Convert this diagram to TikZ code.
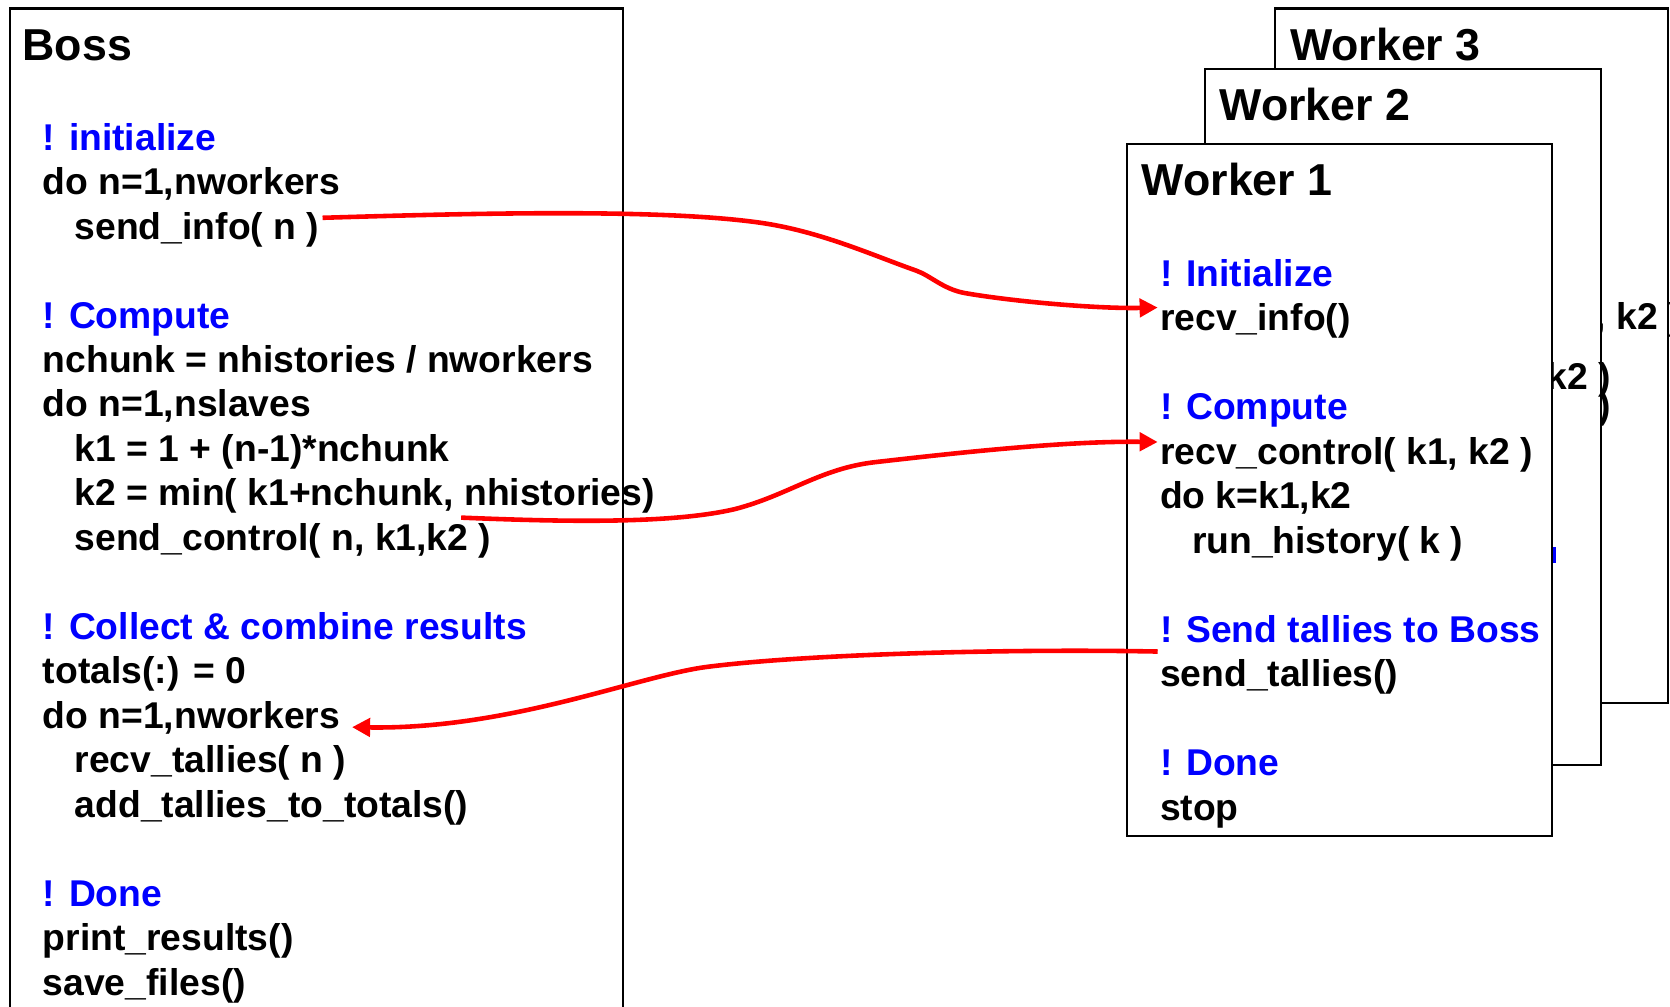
\documentclass[tikz,border=0pt]{standalone}
\usepackage{fontspec}
\setmainfont{Liberation Sans}
\usetikzlibrary{arrows.meta,calc}
\tikzset{
  body/.style={anchor=base west, inner sep=0pt, font=\bfseries\fontsize{35}{42}\selectfont},
  head/.style={body, text=blue},
  title/.style={anchor=base west, inner sep=0pt, font=\bfseries\fontsize{42}{50}\selectfont},
  frame/.style={draw=black, line width=2pt, fill=white},
  msg/.style={draw=red, line width=4.3pt, -{Triangle[length=17pt,width=17pt]}},
}
\begin{document}
\begin{tikzpicture}[x=1pt,y=-1pt]
\useasboundingbox (0,0) rectangle (1568,945);
\clip (0,0) rectangle (1568,945);
% Boss frame
\draw[line width=2pt] (9,960) -- (9,8) -- (585,8) -- (585,960);
\node[title] (boss) at (21,57) {Boss};
\node[head] (binit) at (40,141) {! initialize};
\node[body] (bdo1) at (40,182.75) {do n=1,nworkers};
\node[body] (bsendinfo) at (70,224.5) {send\_info( n )};
\node[head] (bcomp) at (40,308) {! Compute};
\node[body] (bchunk) at (40,349.75) {nchunk = nhistories / nworkers};
\node[body] (bdoslaves) at (40,391.5) {do n=1,nslaves};
\node[body] (bk1) at (70,433.25) {k1 = 1 + (n-1)*nchunk};
\node[body] (bk2) at (70,475) {k2 = min( k1+nchunk, nhistories)};
\node[body] (bsendctl) at (70,516.75) {send\_control( n, k1,k2 )};
\node[head] (bcoll) at (40,600.25) {! Collect \& combine results};
\node[body] (btot) at (40,642) {totals(:) = 0};
\node[body] (bdo2) at (40,683.75) {do n=1,nworkers};
\node[body] (brecv) at (70,725.5) {recv\_tallies( n )};
\node[body] (badd) at (70,767.25) {add\_tallies\_to\_totals()};
\node[head] (bdone) at (40,850.75) {! Done};
\node[body] (bprint) at (40,892.5) {print\_results()};
\node[body] (bsave) at (40,934.25) {save\_files()};
% Worker 3 (only its visible fragments)
\path[frame] (1197,8) rectangle (1566,660);
\node[title] (w3t) at (1211,57) {Worker 3};
\node[body] (w3ctl) at (1498,309) {, k2 )};
\node[body] (w3run) at (1501,392.5) {)};
% Worker 2
\path[frame] (1131,65) rectangle (1503,718);
\node[title] (w2t) at (1145,113.5) {Worker 2};
\node[body] (w2ctl) at (1452,366) {k2 )};
\fill[blue] (1458,514) rectangle (1461,529);
% Worker 1
\path[frame] (1058,135) rectangle (1457,785);
\node[title] (w1t) at (1072,184) {Worker 1};
\node[head] (winit) at (1089,269) {! Initialize};
\node[body] (winfo) at (1089,310.75) {recv\_info()};
\node[head] (wcomp) at (1089,394.25) {! Compute};
\node[body] (wctl) at (1089,436) {recv\_control( k1, k2 )};
\node[body] (wdo) at (1089,477.75) {do k=k1,k2};
\node[body] (wrun) at (1119,519.5) {run\_history( k )};
\node[head] (wsendh) at (1089,603) {! Send tallies to Boss};
\node[body] (wsend) at (1089,644.75) {send\_tallies()};
\node[head] (wdone) at (1089,728.25) {! Done};
\node[body] (wstop) at (1089,770) {stop};
% messages
\coordinate (s1) at ($(bsendinfo.base east)+(3,-20)$);
\coordinate (e1) at ($(winfo.base west)+(-2,-22)$);
\coordinate (s2) at (433,486);
\coordinate (e2) at ($(wctl.base west)+(-2,-21)$);
\coordinate (s3) at ($(wsend.base west)+(-2,-33)$);
\coordinate (e3) at ($(bdo2.base east)+(11,-1)$);
\draw[msg] (s1) .. controls (450,200) and (620,196) .. (713,209)
  .. controls (770,217) and (820,240) .. (860,254)
  .. controls (874,259) and (885,271) .. (905,275)
  .. controls (950,283) and (1030,290) .. (e1);
\draw[msg] (s2) .. controls (530,490) and (630,492) .. (690,478)
  .. controls (740,465) and (770,440) .. (821,434)
  .. controls (900,425) and (1000,414) .. (e2);
\draw[msg] (s3) .. controls (950,609) and (760,614) .. (665,626)
  .. controls (600,634) and (480,685) .. (e3);
\end{tikzpicture}
\end{document}
